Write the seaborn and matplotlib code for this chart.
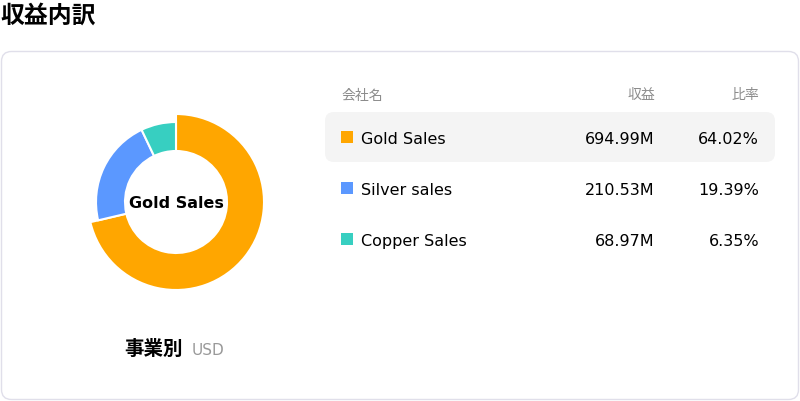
import numpy as np
import pandas as pd
import seaborn as sns
import matplotlib.pyplot as plt
from matplotlib.patches import FancyBboxPatch, Rectangle

companies = ['Gold Sales', 'Silver sales', 'Copper Sales']
revenue = [694.99, 210.53, 68.97]
ratio = [64.02, 19.39, 6.35]
colors = ['#FFA600', '#5B98FF', '#37CFC1']

title = '収益内訳'
col_headers = ['会社名', '収益', '比率']
footer_main = '事業別'
footer_unit = 'USD'

sns.set_style('white')
plt.rcParams['font.family'] = ['DejaVu Sans', 'Noto Sans CJK JP']
plt.rcParams['text.color'] = 'black'

df = pd.DataFrame({'name': companies, 'revenue': revenue, 'ratio': ratio, 'color': colors})

fig = plt.figure(figsize=(8, 4.02), dpi=100)

# background axes in pixel coords
bg = fig.add_axes([0, 0, 1, 1])
bg.set_xlim(0, 800)
bg.set_ylim(402, 0)
bg.axis('off')

bg.text(0, 16, title, fontsize=17.2, fontweight='bold', va='center', ha='left', color='black',
        family=['Noto Sans CJK JP', 'DejaVu Sans'])

card = FancyBboxPatch((1.5, 52.5), 797, 348, boxstyle='round,pad=0,rounding_size=10',
                      facecolor='white', edgecolor='#e0dfea', linewidth=1)
bg.add_patch(card)

# table header
hdr_y = 95.5
bg.text(342, hdr_y, col_headers[0], fontsize=10, color='#8c8c8c', va='center', ha='left')
bg.text(655, hdr_y, col_headers[1], fontsize=10, color='#8c8c8c', va='center', ha='right')
bg.text(759, hdr_y, col_headers[2], fontsize=10, color='#8c8c8c', va='center', ha='right')

# highlighted first row
hl = FancyBboxPatch((325, 113), 450, 50, boxstyle='round,pad=0,rounding_size=9',
                    facecolor='#f4f4f4', edgecolor='none')
bg.add_patch(hl)

row_y = [138, 189, 240]
for y, (_, r) in zip(row_y, df.iterrows()):
    bg.add_patch(Rectangle((341, y - 6), 12, 12, facecolor=r['color'], edgecolor='none'))
    ty = y + 1.5
    bg.text(361, ty, r['name'], fontsize=11.5, color='black', va='center', ha='left')
    bg.text(655, ty, f"{r['revenue']:.2f}M", fontsize=11.5, color='black', va='center', ha='right')
    bg.text(759, ty, f"{r['ratio']:.2f}%", fontsize=11.5, color='black', va='center', ha='right')

# footer label under the donut
bg.text(183, 349.5, footer_main, fontsize=14, fontweight='bold', va='center', ha='right', color='black',
        family=['Noto Sans CJK JP', 'DejaVu Sans'])
bg.text(192, 351, footer_unit, fontsize=11, color='#999999', va='center', ha='left')

# donut
cx, cy = 176, 203
ax = fig.add_axes([(cx - 100) / 800, (402 - cy - 100) / 402, 200 / 800, 200 / 402])
ax.set_xlim(-100, 100)
ax.set_ylim(-100, 100)
ax.set_aspect('equal')
ax.axis('off')
wedges, _ = ax.pie(df['revenue'], colors=df['color'], radius=80, startangle=90,
                   counterclock=False,
                   wedgeprops=dict(width=29, edgecolor='white', linewidth=1.5))
# first slice is emphasised
wedges[0].set_radius(88)
wedges[0].set_width(37)
ax.set_xlim(-100, 100)
ax.set_ylim(-100, 100)
ax.text(0, -1, df['name'][0], fontsize=11.5, fontweight='bold', ha='center', va='center', color='black')

fig.savefig('out.png', dpi=100)
